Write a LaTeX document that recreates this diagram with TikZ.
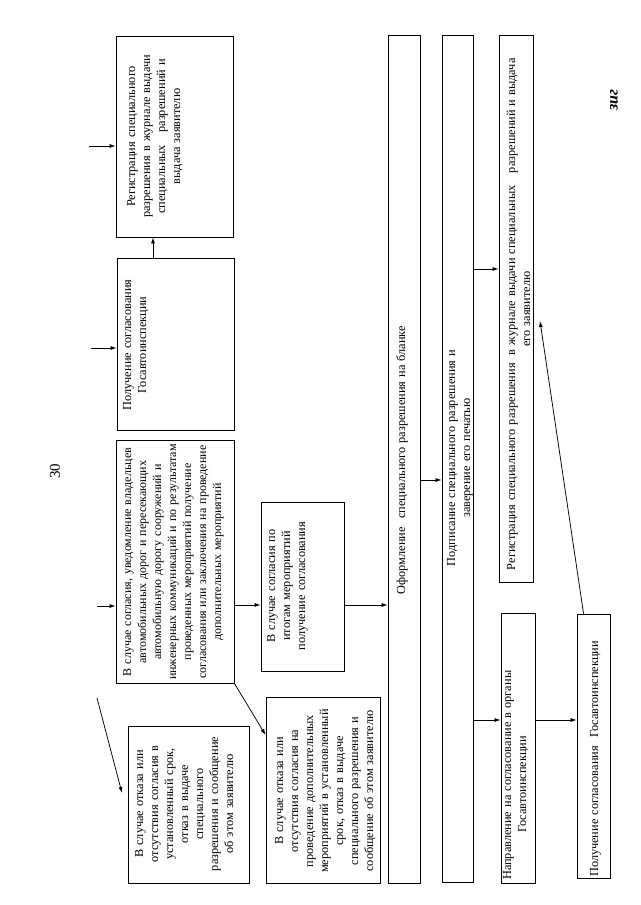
\documentclass[tikz,border=0pt]{standalone}
\usepackage{fontspec}
\setmainfont{Liberation Serif}
\usetikzlibrary{arrows.meta}
\begin{document}
\begin{tikzpicture}[x=1pt,y=-1pt,
  box/.style={draw, line width=0.9pt, inner sep=0pt, rectangle},
  txt/.style={rotate=90, anchor=base, align=center, inner sep=0pt, font=\fontsize{12.3}{15}\selectfont},
  txtl/.style={rotate=90, anchor=base west, align=left, inner sep=0pt, font=\fontsize{12.3}{15}\selectfont},
  arr/.style={-{Latex[length=6pt,width=4pt]}, line width=0.75pt}]
\useasboundingbox (0,0) rectangle (640,905);
\fill[white] (0,0) rectangle (640,905);

% page number
\node[rotate=90, font=\fontsize{15}{18}\selectfont, inner sep=0pt] (pg) at (55,471) {30};

% boxes
\node[box, minimum width=117pt, minimum height=201pt] (r1) at (174.5,136.5) {};
\node[box, minimum width=117pt, minimum height=172pt] (p1) at (175.5,344) {};
\node[box, minimum width=118pt, minimum height=243pt] (s1) at (175,561.5) {};
\node[box, minimum width=83pt, minimum height=169pt] (a1) at (302.5,586.5) {};
\node[box, minimum width=121pt, minimum height=157pt] (o1) at (188.5,804.5) {};
\node[box, minimum width=114pt, minimum height=186pt] (o2) at (323,790) {};
\node[box, minimum width=32pt, minimum height=848pt] (f) at (404,459) {};
\node[box, minimum width=31pt, minimum height=847pt] (pd) at (457.5,458.5) {};
\node[box, minimum width=34pt, minimum height=547pt] (rr) at (516,308.5) {};
\node[box, minimum width=34pt, minimum height=270pt] (n) at (518,748) {};
\node[box, minimum width=33pt, minimum height=264pt] (g) at (593.5,746) {};

% texts
\node[txt, text width=198pt] (r1t) at (135,136.5) {Регистрация специального\\разрешения в журнале выдачи\\специальных\ \ \ разрешений и\\выдача заявителю};
\node[txt, text width=168pt] (p1t) at (131,345) {Получение согласования\\Госавтоинспекции};
\node[txt, text width=240pt, font=\fontsize{12}{15}\selectfont] (s1t) at (131,562) {В случае согласия, уведомление владельцев\\автомобильных дорог и пересекающих\\автомобильную дорогу сооружений и\\инженерных коммуникаций и по результатам\\проведенных мероприятий получение\\согласования или заключения на проведение\\дополнительных мероприятий};
\node[txt, text width=165pt] (a1t) at (275,586) {В случае согласия по\\итогам мероприятий\\получение согласования};
\node[txt, text width=152pt] (o1t) at (143,804) {В случае отказа или\\отсутствия согласия в\\установленный срок,\\отказ в выдаче\\специального\\разрешения и сообщение\\об этом заявителю};
\node[txt, text width=186pt] (o2t) at (283,791) {В случае отказа или\\отсутствия согласия на\\проведение дополнительных\\мероприятий в установленный\\срок, отказ в выдаче\\специального разрешения и\\сообщение об этом заявителю};
\node[txt, text width=840pt] (ft) at (405,460) {Оформление\ \ специального разрешения на бланке};
\node[txt, text width=840pt] (pdt) at (455,458) {Подписание специального разрешения и\\заверение его печатью};
\node[txt, text width=530pt] (rrt) at (515,309) {\makebox[522pt][s]{Регистрация специального разрешения\ \ в журнале выдачи специальных\ \ \ разрешений и выдача}\\его заявителю};
\node[txtl, text width=265pt] (nt) at (511,880) {Направление на согласование в органы\\\hspace*{47pt}Госавтоинспекции};
\node[txtl, text width=262pt] (gt) at (598,877) {Получение согласования\ \ Госавтоинспекции};

% signature mark
\node[rotate=90, font=\fontsize{16}{18}\selectfont\itshape\bfseries, inner sep=0pt] (sig) at (614,100) {зиг};

% helper coordinates
\coordinate (h605) at (0,605);
\coordinate (h735) at (0,735);
\coordinate (h480) at (0,480);
\coordinate (h269) at (0,269);
\coordinate (h720) at (0,720);
\coordinate (x153) at (153,0);
\coordinate (c1) at (89,146);
\coordinate (c2) at (91,348);
\coordinate (c3) at (97,606);
\coordinate (c4) at (97,698);
\coordinate (c5) at (122,793);
\coordinate (c6) at (540,321);

% connectors
\draw[arr] (c1) -- (r1.west |- c1);
\draw[arr] (x153 |- p1.north) -- (x153 |- r1.south);
\draw[arr] (c2) -- (p1.west |- c2);
\draw[arr] (c3) -- (s1.west |- c3);
\draw[arr] (s1.east |- h605) -- (a1.west |- h605);
\draw[arr] (s1.south east) -- (o2.west |- h735);
\draw[arr] (c4) -- (c5);
\draw[arr] (a1.east |- h605) -- (f.west |- h605);
\draw[arr] (f.east |- h480) -- (pd.west |- h480);
\draw[arr] (pd.east |- h269) -- (rr.west |- h269);
\draw[arr] (pd.east |- h720) -- (n.west |- h720);
\draw[arr] (n.east |- h720) -- (g.west |- h720);
\draw[arr] ([xshift=7pt]g.north west) -- (c6);
\end{tikzpicture}
\end{document}
